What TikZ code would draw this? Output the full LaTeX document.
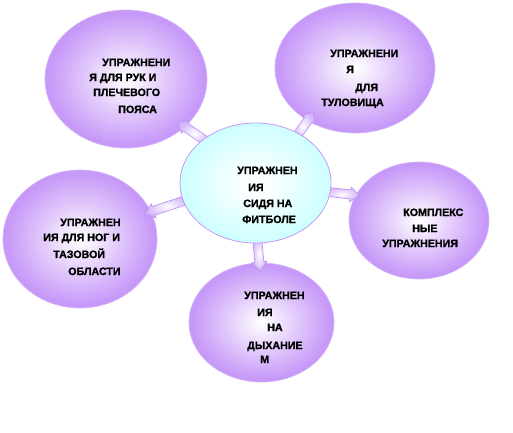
\documentclass[tikz,border=0pt]{standalone}
\usepackage{fontspec}
\setmainfont{Liberation Sans}[BoldFeatures={FakeBold=1.2}]
\usetikzlibrary{shapes.geometric,calc}

\definecolor{bubbleedge}{RGB}{198,152,248}
\definecolor{bubbleline}{RGB}{212,182,250}
\definecolor{seatedge}{RGB}{204,255,255}
\definecolor{seatline}{RGB}{198,152,246}
\definecolor{arrowfill}{RGB}{210,180,250}
\definecolor{arrowline}{RGB}{192,146,240}

% the 50bp circle takes in the corners of the box, so the rim of an ellipse sits near 35bp
\pgfdeclareradialshading{bubbleglow}{\pgfpoint{0bp}{0bp}}{color(0bp)=(white); color(3bp)=(white!88!bubbleedge); color(13bp)=(white!45!bubbleedge); color(24bp)=(bubbleedge); color(50bp)=(bubbleedge)}
\pgfdeclareradialshading{seatglow}{\pgfpoint{0bp}{0bp}}{color(0bp)=(white); color(5bp)=(white!92!seatedge); color(25bp)=(seatedge); color(50bp)=(seatedge)}

\pgfdeclarelayer{bubbles}
\pgfdeclarelayer{links}
\pgfsetlayers{bubbles,links,main}

\begin{document}
\begin{tikzpicture}[x=0.75pt, y=-0.75pt,
  bubble/.style={ellipse, inner sep=0pt, outer sep=0pt, draw=bubbleline, line width=0.5pt, shading=bubbleglow},
  seatbubble/.style={ellipse, inner sep=0pt, outer sep=0pt, draw=seatline, line width=0.6pt, shading=seatglow},
  lbl/.style={anchor=base west, inner sep=0pt, font=\fontsize{8pt}{9.6pt}\selectfont\bfseries},
  fat/.style={draw=arrowline, line width=0.5pt, inner color=white, outer color=arrowfill,
    to path={let \p1=($(\tikztotarget)-(\tikztostart)$), \n1={atan2(\y1,\x1)}, \n2={veclen(\x1,\y1)},
      \n3={\n2-6.75} in
      ([shift={(\tikztostart)}, rotate=\n1]-4pt,-3.4pt)
      -- ([shift={(\tikztostart)}, rotate=\n1]\n3,-3.4pt)
      -- ([shift={(\tikztostart)}, rotate=\n1]\n3,-5.6pt)
      -- ([shift={(\tikztostart)}, rotate=\n1]\n2,0pt)
      -- ([shift={(\tikztostart)}, rotate=\n1]\n3,5.6pt)
      -- ([shift={(\tikztostart)}, rotate=\n1]\n3,3.4pt)
      -- ([shift={(\tikztostart)}, rotate=\n1]-4pt,3.4pt) -- cycle}}]
  \useasboundingbox (0,0) rectangle (513,432);

  % outer bubbles
  \begin{pgfonlayer}{bubbles}
    \node[bubble, minimum width=121.5pt, minimum height=103.5pt] (arms) at (126,79) {};
    \node[bubble, minimum width=120pt, minimum height=97.5pt] (trunk) at (355,68) {};
    \node[bubble, minimum width=105pt, minimum height=87.75pt] (complex) at (419,220.5) {};
    \node[bubble, minimum width=115.5pt, minimum height=103.5pt] (legs) at (80,239) {};
    \node[bubble, minimum width=108.75pt, minimum height=89.25pt] (breath) at (261.5,322.5) {};
  \end{pgfonlayer}

  % centre bubble
  \node[seatbubble, minimum width=113.25pt, minimum height=90pt] (seat) at (255.5,183) {};

  % arrow feet on the centre bubble, tips pushed a little into the others
  \coordinate (armsfoot) at (seat.140);
  \coordinate (trunkfoot) at (seat.49);
  \coordinate (complexfoot) at (seat.-7);
  \coordinate (legsfoot) at (seat.-166);
  \coordinate (breathfoot) at (seat.-88);
  \coordinate (armstip) at ($(arms.-39)!-6pt!(armsfoot)$);
  \coordinate (trunktip) at ($(trunk.-132)!-7.5pt!(trunkfoot)$);
  \coordinate (complextip) at ($(complex.158)!-2.5pt!(complexfoot)$);
  \coordinate (legstip) at ($(legs.21)!-4.5pt!(legsfoot)$);
  \coordinate (breathtip) at ($(breath.92)!-6pt!(breathfoot)$);

  \begin{pgfonlayer}{links}
    \draw[fat] (armsfoot) to (armstip);
    \draw[fat] (trunkfoot) to (trunktip);
    \draw[fat] (complexfoot) to (complextip);
    \draw[fat] (legsfoot) to (legstip);
    \draw[fat] (breathfoot) to (breathtip);
  \end{pgfonlayer}

  \node[lbl] (arms1) at (102,66) {УПРАЖНЕНИ};
  \node[lbl] (arms2) at (89,81) {Я ДЛЯ РУК И};
  \node[lbl] (arms3) at (93,96) {ПЛЕЧЕВОГО};
  \node[lbl] (arms4) at (118,113) {ПОЯСА};

  \node[lbl] (trunk1) at (330,57) {УПРАЖНЕНИ};
  \node[lbl] (trunk2) at (346,73) {Я};
  \node[lbl] (trunk3) at (355,91) {ДЛЯ};
  \node[lbl] (trunk4) at (321,106) {ТУЛОВИЩА};

  \node[lbl] (seat1) at (237,174) {УПРАЖНЕН};
  \node[lbl] (seat2) at (248,191) {ИЯ};
  \node[lbl] (seat3) at (243,207) {СИДЯ НА};
  \node[lbl] (seat4) at (242,223) {ФИТБОЛЕ};

  \node[lbl] (complex1) at (403,216) {КОМПЛЕКС};
  \node[lbl] (complex2) at (412,232) {НЫЕ};
  \node[lbl] (complex3) at (382,247) {УПРАЖНЕНИЯ};

  \node[lbl] (legs1) at (60,226) {УПРАЖНЕН};
  \node[lbl] (legs2) at (43,241) {ИЯ ДЛЯ НОГ И};
  \node[lbl] (legs3) at (53,258) {ТАЗОВОЙ};
  \node[lbl] (legs4) at (68,275) {ОБЛАСТИ};

  \node[lbl] (breath1) at (244,299) {УПРАЖНЕН};
  \node[lbl] (breath2) at (257,316) {ИЯ};
  \node[lbl] (breath3) at (267,331) {НА};
  \node[lbl] (breath4) at (247,349) {ДЫХАНИЕ};
  \node[lbl] (breath5) at (260,363) {М};
\end{tikzpicture}
\end{document}
